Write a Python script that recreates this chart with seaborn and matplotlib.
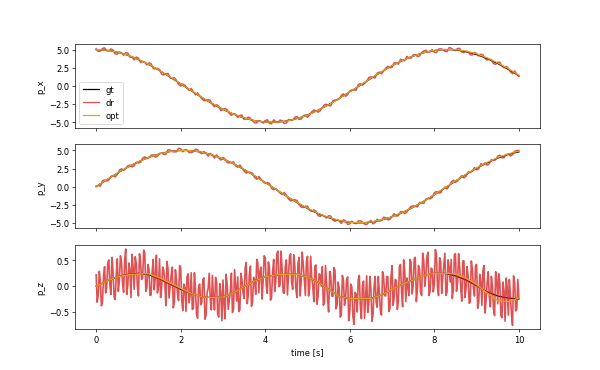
import numpy as np
import pandas as pd
import matplotlib
matplotlib.use("Agg")
import matplotlib.pyplot as plt
import seaborn as sns

# time grids (s)
t_fine = [round(0.1 * i, 3) for i in range(101)]
t_opt = [round(0.25 * i, 3) for i in range(41)]
t_xy = [round(0.05 * i, 3) for i in range(201)]
t_z = [round(0.025 * i, 3) for i in range(401)]

gt_px = [5.00, 4.99, 4.94, 4.87, 4.77, 4.65, 4.49, 4.31, 4.11, 3.88,
         3.64, 3.36, 3.08, 2.77, 2.45, 2.11, 1.76, 1.40, 1.03, 0.66,
         0.28, -0.09, -0.47, -0.85, -1.22, -1.58, -1.94, -2.28, -2.61, -2.93,
         -3.22, -3.50, -3.76, -3.99, -4.22, -4.41, -4.58, -4.72, -4.83, -4.91,
         -4.97, -5.00, -5.00, -4.97, -4.91, -4.83, -4.71, -4.57, -4.40, -4.21,
         -3.99, -3.74, -3.48, -3.19, -2.89, -2.57, -2.23, -1.89, -1.53, -1.17,
         -0.81, -0.47, -0.09, 0.28, 0.66, 1.03, 1.40, 1.76, 2.11, 2.45,
         2.77, 3.08, 3.36, 3.63, 3.88, 4.11, 4.31, 4.49, 4.65, 4.77,
         4.87, 4.94, 4.99, 5.00, 4.99, 4.94, 4.87, 4.77, 4.65, 4.49,
         4.31, 4.11, 3.88, 3.64, 3.36, 3.08, 2.77, 2.45, 2.11, 1.76, 1.40]

dr_px = [5.12, 4.76, 4.78, 5.16, 5.24, 4.83, 4.82, 5.09, 4.95, 4.41,
         4.38, 4.68, 4.57, 4.23, 4.56, 4.53, 3.97, 3.97, 3.57, 3.98,
         3.86, 3.22, 3.39, 3.28, 2.89, 3.18, 3.05, 2.40, 2.36, 2.42,
         2.26, 1.61, 1.52, 1.67, 1.73, 1.10, 1.01, 1.14, 0.77, 0.21,
         -0.01, 0.27, 0.11, -0.33, -0.59, -0.35, -0.79, -1.23, -0.95, -1.38,
         -1.76, -2.03, -2.01, -1.88, -1.97, -2.55, -2.86, -2.59, -2.79, -3.40,
         -3.25, -3.10, -3.27, -3.78, -4.06, -3.81, -3.90, -4.35, -4.05, -4.02,
         -4.63, -4.51, -4.29, -4.45, -4.83, -5.07, -5.09, -4.75, -4.86, -5.12,
         -4.76, -4.66, -5.16, -5.22, -4.66, -4.95, -5.05, -4.70, -4.78, -5.18,
         -5.11, -4.61, -4.69, -4.71, -4.31, -4.21, -4.60, -4.56, -4.11, -4.00,
         -4.32, -4.03, -3.55, -3.32, -3.41, -3.61, -3.42, -2.99, -2.59, -2.52,
         -2.70, -2.74, -2.07, -1.93, -1.93, -1.80, -1.29, -1.09, -1.44, -1.19,
         -0.69, -0.56, -0.56, -0.58, 0.19, 0.32, 0.11, 0.34, 0.67, 1.16,
         1.25, 1.18, 1.09, 1.76, 1.91, 1.68, 2.05, 2.43, 2.70, 2.50,
         2.56, 3.20, 3.16, 2.99, 3.68, 3.53, 3.48, 4.08, 3.86, 3.83,
         4.29, 4.31, 4.05, 4.12, 4.60, 4.81, 4.92, 4.65, 4.67, 5.01,
         4.63, 4.59, 5.08, 5.11, 5.03, 4.79, 4.71, 5.29, 5.20, 4.95,
         4.87, 5.16, 5.17, 4.68, 4.59, 4.77, 4.74, 4.27, 4.27, 4.60,
         4.47, 4.13, 4.37, 4.28, 3.76, 3.57, 3.67, 3.62, 3.08, 2.97,
         3.27, 3.26, 2.72, 2.50, 2.68, 2.45, 1.95, 1.67, 2.07, 1.63,
         1.31]

opt_px = [5.02, 4.93, 4.66, 4.24, 3.66, 2.95, 2.12, 1.25, 0.30, -0.63,
          -1.56, -2.43, -3.20, -3.88, -4.40, -4.78, -4.98, -5.00, -4.84, -4.50,
          -4.01, -3.36, -2.59, -1.73, -0.82, 0.12, 1.06, 1.95, 2.79, 3.52,
          4.13, 4.58, 4.90, 5.04, 5.00, 4.80, 4.42, 3.87, 3.18, 2.38, 1.49]

gt_py = [0.00, 0.38, 0.75, 1.13, 1.49, 1.85, 2.19, 2.53, 2.85, 3.15,
         3.43, 3.70, 3.94, 4.16, 4.36, 4.53, 4.68, 4.80, 4.89, 4.96,
         4.99, 5.00, 4.98, 4.93, 4.85, 4.74, 4.61, 4.45, 4.26, 4.05,
         3.82, 3.57, 3.30, 3.01, 2.69, 2.36, 2.01, 1.66, 1.29, 0.93,
         0.57, 0.19, -0.19, -0.57, -0.94, -1.31, -1.67, -2.03, -2.37, -2.70,
         -3.02, -3.32, -3.59, -3.85, -4.08, -4.29, -4.47, -4.63, -4.76, -4.86,
         -4.93, -4.98, -5.00, -4.99, -4.96, -4.89, -4.80, -4.68, -4.53, -4.36,
         -4.16, -3.94, -3.70, -3.43, -3.15, -2.85, -2.53, -2.19, -1.85, -1.49,
         -1.13, -0.75, -0.38, 0.00, 0.38, 0.75, 1.13, 1.49, 1.85, 2.19,
         2.53, 2.85, 3.15, 3.43, 3.70, 3.94, 4.16, 4.36, 4.53, 4.68, 4.80]

dr_py = [0.09, 0.14, 0.07, 0.84, 0.91, 0.77, 0.90, 1.42, 1.54, 1.34,
         1.66, 2.27, 2.47, 2.24, 2.50, 2.88, 2.97, 2.72, 2.89, 3.37,
         3.27, 3.37, 3.92, 4.12, 3.85, 3.99, 4.34, 4.40, 4.06, 4.20,
         4.60, 4.63, 4.47, 4.45, 5.09, 5.06, 4.85, 4.79, 4.82, 5.30,
         5.23, 4.81, 5.10, 5.05, 4.71, 4.72, 4.82, 5.17, 5.11, 4.70,
         4.56, 4.85, 4.63, 4.21, 4.60, 4.33, 3.94, 4.39, 3.97, 3.67,
         4.03, 3.81, 3.32, 3.29, 3.36, 3.42, 2.86, 2.67, 3.00, 2.57,
         2.14, 1.88, 2.00, 1.97, 1.83, 1.26, 1.01, 1.41, 1.02, 0.67,
         0.45, 0.58, 0.46, -0.26, -0.43, -0.29, -0.53, -0.89, -1.10, -0.79,
         -1.18, -1.70, -1.97, -1.90, -1.80, -1.93, -2.44, -2.83, -2.89, -2.70,
         -2.69, -3.27, -3.42, -3.21, -3.39, -4.00, -4.11, -3.90, -4.10, -4.35,
         -4.01, -4.07, -4.60, -4.79, -4.55, -4.74, -5.10, -4.59, -4.70, -5.23,
         -5.14, -4.78, -5.03, -5.11, -4.74, -4.71, -4.88, -5.18, -5.25, -4.92,
         -4.67, -5.15, -4.97, -4.50, -4.77, -4.68, -4.23, -4.30, -4.59, -4.52,
         -4.13, -3.73, -4.08, -4.00, -3.45, -3.47, -3.74, -3.52, -3.08, -2.73,
         -2.67, -2.71, -2.80, -2.17, -2.25, -2.33, -1.73, -1.62, -1.69, -1.48,
         -0.84, -0.68, -0.86, -0.86, -0.36, -0.07, -0.33, 0.10, 0.62, 0.90,
         0.60, 0.80, 1.22, 1.52, 1.21, 1.42, 2.04, 1.96, 2.16, 2.64,
         2.31, 2.47, 3.16, 3.03, 3.29, 2.97, 3.18, 3.74, 3.62, 3.71,
         4.21, 4.35, 3.98, 3.99, 4.41, 4.53, 4.23, 4.42, 4.89, 4.98,
         5.00]

opt_py = [0.02, 0.96, 1.87, 2.71, 3.45, 4.06, 4.54, 4.86, 5.00, 4.97,
          4.76, 4.38, 3.84, 3.17, 2.38, 1.50, 0.57, -0.37, -1.30, -2.18,
          -2.98, -3.68, -4.25, -4.67, -4.92, -4.99, -4.88, -4.60, -4.15, -3.56,
          -2.84, -2.03, -1.10, -0.16, 0.79, 1.72, 2.58, 3.36, 4.02, 4.53, 4.90]

gt_pz = [0.00, 0.10, 0.18, 0.23, 0.25, 0.22, 0.14, 0.04, -0.06, -0.14,
         -0.21, -0.22, -0.21, -0.13, -0.01, 0.10, 0.18, 0.22, 0.23, 0.23,
         0.18, 0.08, -0.06, -0.20, -0.24, -0.24, -0.24, -0.17, -0.06, 0.04,
         0.12, 0.21, 0.25, 0.25, 0.20, 0.12, 0.01, -0.11, -0.19, -0.23, -0.25]

opt_pz = [0.00, 0.10, 0.18, 0.22, 0.24, 0.24, 0.16, 0.06, -0.04, -0.14,
          -0.21, -0.22, -0.21, -0.13, -0.01, 0.10, 0.18, 0.22, 0.23, 0.23,
          0.18, 0.08, -0.06, -0.20, -0.24, -0.24, -0.24, -0.17, -0.06, 0.04,
          0.12, 0.21, 0.25, 0.25, 0.24, 0.16, 0.03, -0.13, -0.28, -0.30, -0.23]

dr_pz = [0.22, -0.31, -0.16, 0.29, 0.09, -0.38, -0.30, 0.20, 0.38, -0.13,
         -0.03, 0.46, 0.51, 0.02, -0.16, 0.56, 0.28, -0.21, -0.26, 0.21,
         0.53, -0.10, 0.12, 0.59, 0.46, 0.05, -0.12, 0.51, 0.72, -0.16,
         0.03, 0.45, 0.32, -0.22, 0.62, 0.36, -0.06, 0.57, 0.44, 0.01,
         -0.19, 0.63, 0.49, 0.13, 0.16, 0.70, 0.65, -0.10, -0.02, 0.42,
         0.33, -0.18, -0.17, 0.28, 0.52, -0.07, 0.19, 0.60, -0.13, -0.01,
         0.53, -0.22, -0.03, 0.37, 0.31, 0.05, -0.38, 0.48, 0.34, -0.23,
         0.00, 0.21, 0.37, -0.42, -0.32, 0.32, 0.13, -0.15, -0.28, 0.40,
         0.36, -0.28, -0.47, 0.04, -0.03, -0.49, 0.18, 0.24, -0.32, -0.16,
         0.26, -0.45, -0.43, 0.26, -0.05, -0.54, -0.62, 0.01, 0.04, -0.36,
         -0.31, 0.13, 0.16, -0.64, -0.56, -0.13, -0.04, 0.25, -0.25, -0.46,
         0.21, -0.21, -0.46, 0.17, 0.07, -0.54, -0.60, 0.05, -0.15, -0.67,
         0.12, -0.34, -0.63, 0.23, 0.03, -0.45, -0.28, -0.10, 0.25, -0.51,
         -0.43, 0.32, 0.00, -0.29, 0.18, -0.49, -0.46, 0.25, 0.11, -0.12,
         -0.24, 0.35, 0.46, -0.34, -0.15, 0.23, 0.39, -0.39, -0.29, 0.17,
         0.12, -0.16, 0.52, 0.46, -0.13, 0.29, 0.37, -0.25, 0.09, 0.59,
         0.56, 0.00, -0.14, 0.47, 0.33, -0.27, -0.21, 0.28, 0.52, -0.10,
         0.09, 0.63, 0.68, -0.01, 0.02, 0.68, 0.32, -0.12, -0.14, 0.38,
         0.51, -0.17, 0.19, 0.57, 0.63, 0.07, -0.06, 0.61, 0.39, -0.05,
         -0.22, 0.44, 0.56, -0.19, 0.09, 0.66, 0.42, 0.12, -0.18, 0.48,
         0.58, -0.19, -0.04, 0.58, 0.18, 0.00, -0.30, 0.39, 0.41, -0.35,
         -0.19, 0.24, 0.22, 0.00, 0.38, -0.37, -0.32, 0.40, 0.07, -0.26,
         -0.50, 0.29, 0.19, -0.19, -0.20, 0.36, 0.31, -0.44, -0.36, 0.08,
         -0.04, -0.60, -0.55, 0.21, 0.11, -0.37, -0.24, 0.12, 0.18, -0.67,
         -0.50, 0.04, -0.02, -0.59, -0.74, -0.12, -0.15, -0.50, 0.12, 0.21,
         -0.40, -0.63, 0.01, 0.10, -0.62, -0.19, 0.20, -0.51, -0.34, 0.19,
         -0.04, -0.68, -0.55, -0.02, 0.19, -0.32, -0.41, 0.19, -0.12, -0.49,
         -0.56, 0.28, 0.19, -0.18, -0.19, 0.19, 0.18, -0.49, -0.44, 0.18,
         0.40, -0.37, -0.22, 0.13, 0.11, -0.45, -0.29, 0.39, 0.42, -0.12,
         -0.40, 0.51, 0.29, -0.30, 0.16, -0.02, -0.18, 0.52, 0.46, -0.15,
         0.01, 0.53, 0.56, -0.30, -0.07, 0.40, 0.34, -0.12, -0.18, 0.64,
         0.50, 0.00, 0.21, 0.57, 0.66, -0.18, -0.09, 0.35, 0.33, -0.11,
         0.03, 0.71, 0.61, -0.01, -0.18, 0.55, 0.48, -0.14, 0.18, 0.41,
         0.64, -0.18, -0.12, 0.51, 0.37, 0.08, 0.52, -0.24, -0.05, 0.61,
         0.63, -0.10, 0.07, 0.63, 0.37, -0.05, -0.29, 0.49, 0.49, -0.22,
         -0.05, 0.38, 0.18, -0.33, -0.31, 0.49, 0.33, -0.04, -0.19, 0.40,
         0.42, -0.43, -0.32, 0.23, 0.09, -0.37, 0.30, 0.40, -0.52, -0.27,
         0.08, 0.28, -0.20, -0.40, 0.19, -0.01, -0.44, -0.57, 0.28, 0.15,
         -0.34, 0.24, 0.06, -0.57, -0.61, 0.08, -0.10, -0.68, 0.16, -0.02,
         -0.56, 0.13, -0.18, -0.54, -0.76, 0.20, 0.07, -0.48, -0.45, 0.13,
         -0.23]

labels = ["gt", "dr", "opt"]
ylabels = ["p_x", "p_y", "p_z"]
c_gt, c_dr, c_opt = "black", "tab:red", "goldenrod"
dr_widths = [1.8, 1.8, 2.0]

fig, axes = plt.subplots(3, 1, figsize=(10, 6.18), dpi=60, sharex=True)

series = [
    (t_fine, gt_px, t_xy, dr_px, t_opt, opt_px),
    (t_fine, gt_py, t_xy, dr_py, t_opt, opt_py),
    (t_opt, gt_pz, t_z, dr_pz, t_opt, opt_pz),
]

for i, (ax, (tg, g, td, d, to, o)) in enumerate(zip(axes, series)):
    kw = dict(ax=ax, sort=False, estimator=None)
    sns.lineplot(x=tg, y=g, color=c_gt, lw=1.5, legend=False, **kw)
    sns.lineplot(x=td, y=d, color=c_dr, lw=dr_widths[i], alpha=0.8,
                 legend=False, **kw)
    sns.lineplot(x=to, y=o, color=c_opt, lw=1.5, legend=False, **kw)
    ax.set_ylabel(ylabels[i])

h = [plt.Line2D([], [], color=c_gt, lw=1.5),
     plt.Line2D([], [], color=c_dr, lw=1.5, alpha=0.8),
     plt.Line2D([], [], color=c_opt, lw=1.5)]
axes[0].legend(h, labels, loc="lower left")
axes[2].set_xlabel("time [s]")

fig.savefig("out.png", dpi=60)
